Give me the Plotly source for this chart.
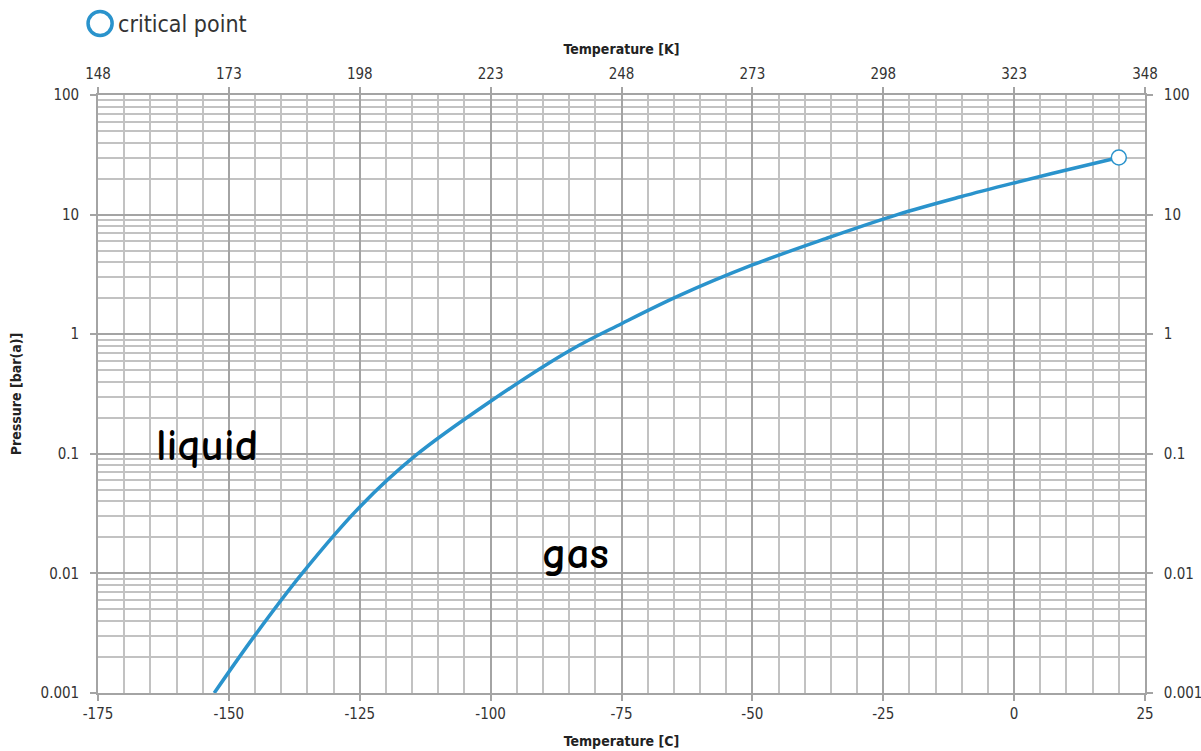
import plotly.graph_objects as go

# Vapor pressure curve (temperature in C, pressure in bar(a))
temp_c = [-152.8, -145.2, -136.0, -124.9, -114.5, -100.0, -84.7, -74.9,
          -64.0, -50.0, -36.0, -22.3, -10.2, 0.0, 10.0, 20.0]
pressure = [0.001, 0.00296, 0.01, 0.0363, 0.0955, 0.275, 0.738, 1.23,
            2.1, 3.79, 6.3, 10.0, 14.1, 18.4, 23.6, 30.0]

crit_t = [20.0]
crit_p = [30.0]

x_ticks_c = [-175, -150, -125, -100, -75, -50, -25, 0, 25]
x_ticks_k = [148, 173, 198, 223, 248, 273, 298, 323, 348]
y_ticks = [0.001, 0.01, 0.1, 1, 10, 100]
y_tick_text = ["0.001", "0.01", "0.1", "1", "10", "100"]
y_minor = [m * 10.0 ** e for e in range(-3, 2) for m in range(2, 10)]

blue = "#2a93cc"
base_family = "DejaVu Sans Condensed, Liberation Sans Narrow, DejaVu Sans"
tick_font = dict(family=base_family, size=15, color="#333333")
title_font = dict(family=base_family, size=14, color="#222222")
major_grid = "#a4a4a4"
minor_grid = "#c2c2c2"

fig = go.Figure()

fig.add_trace(go.Scatter(
    x=temp_c, y=pressure, mode="lines",
    line=dict(color=blue, width=3.5, shape="spline", smoothing=1.0),
    showlegend=False, hoverinfo="x+y",
))
fig.add_trace(go.Scatter(
    x=crit_t, y=crit_p, mode="markers",
    marker=dict(symbol="circle", size=15, color="white", line=dict(color=blue, width=1.5)),
    showlegend=False, name="critical point",
))
# helper trace so the top (K) and right axes render
fig.add_trace(go.Scatter(
    x=[x_ticks_k[0], x_ticks_k[-1]], y=[y_ticks[0], y_ticks[-1]],
    xaxis="x2", yaxis="y2", mode="markers",
    marker=dict(opacity=0), showlegend=False, hoverinfo="skip",
))

common = dict(
    showline=True, linecolor=major_grid, linewidth=1.6,
    ticks="outside", ticklen=6, tickcolor=major_grid, tickwidth=1.6,
    tickfont=tick_font, zeroline=False, automargin=False,
)

fig.update_layout(
    width=1201, height=751,
    margin=dict(l=98, r=56, t=95, b=58),
    paper_bgcolor="white", plot_bgcolor="white",
    xaxis=dict(
        range=[-175, 25], tickvals=x_ticks_c, ticktext=[str(v) for v in x_ticks_c],
        showgrid=True, gridcolor=major_grid, gridwidth=1.6,
        minor=dict(dtick=5, tick0=-175, showgrid=True, gridcolor=minor_grid, gridwidth=1.5, ticks=""),
        title=dict(text="<b>Temperature [C]</b>", font=title_font, standoff=14),
        **common,
    ),
    xaxis2=dict(
        range=[148, 348], tickvals=x_ticks_k, ticktext=[str(v) for v in x_ticks_k],
        overlaying="x", side="top", anchor="y", showgrid=False,
        ticklabelstandoff=2,
        title=dict(text="<b>Temperature [K]</b>", font=title_font, standoff=7),
        **common,
    ),
    yaxis=dict(
        type="log", range=[-3, 2], tickvals=y_ticks, ticktext=y_tick_text,
        showgrid=True, gridcolor=major_grid, gridwidth=1.6,
        minor=dict(tickmode="array", tickvals=y_minor, showgrid=True,
                   gridcolor=minor_grid, gridwidth=1.5, ticks=""),
        ticklabelstandoff=8,
        title=dict(text="<b>Pressure [bar(a)]</b>", font=title_font, standoff=16),
        **common,
    ),
    yaxis2=dict(
        type="log", range=[-3, 2], tickvals=y_ticks, ticktext=y_tick_text,
        overlaying="y", side="right", anchor="x", showgrid=False,
        ticklabelstandoff=8,
        **common,
    ),
    showlegend=False,
)

# legend-like key for the critical point
fig.add_shape(type="circle", xref="paper", yref="paper",
              x0=-0.0095, x1=0.0135, y0=1.0995, y1=1.1395,
              line=dict(color=blue, width=3.5), fillcolor="white")
fig.add_annotation(text="critical point", xref="paper", yref="paper",
                   x=0.0175, y=1.1195, xanchor="left", yanchor="middle",
                   showarrow=False,
                   font=dict(family=base_family, size=23, color="#333333"))

region_font = dict(family="Comic Sans MS, Comic Neue, Lato, DejaVu Sans", size=45,
                   color="black", weight=900)
fig.add_annotation(text="liquid", x=-154.1, y=-0.93, xref="x", yref="y",
                   showarrow=False, font=region_font)
fig.add_annotation(text="gas", x=-83.8, y=-1.83, xref="x", yref="y",
                   showarrow=False, font=region_font)

fig.write_html("out.html")
